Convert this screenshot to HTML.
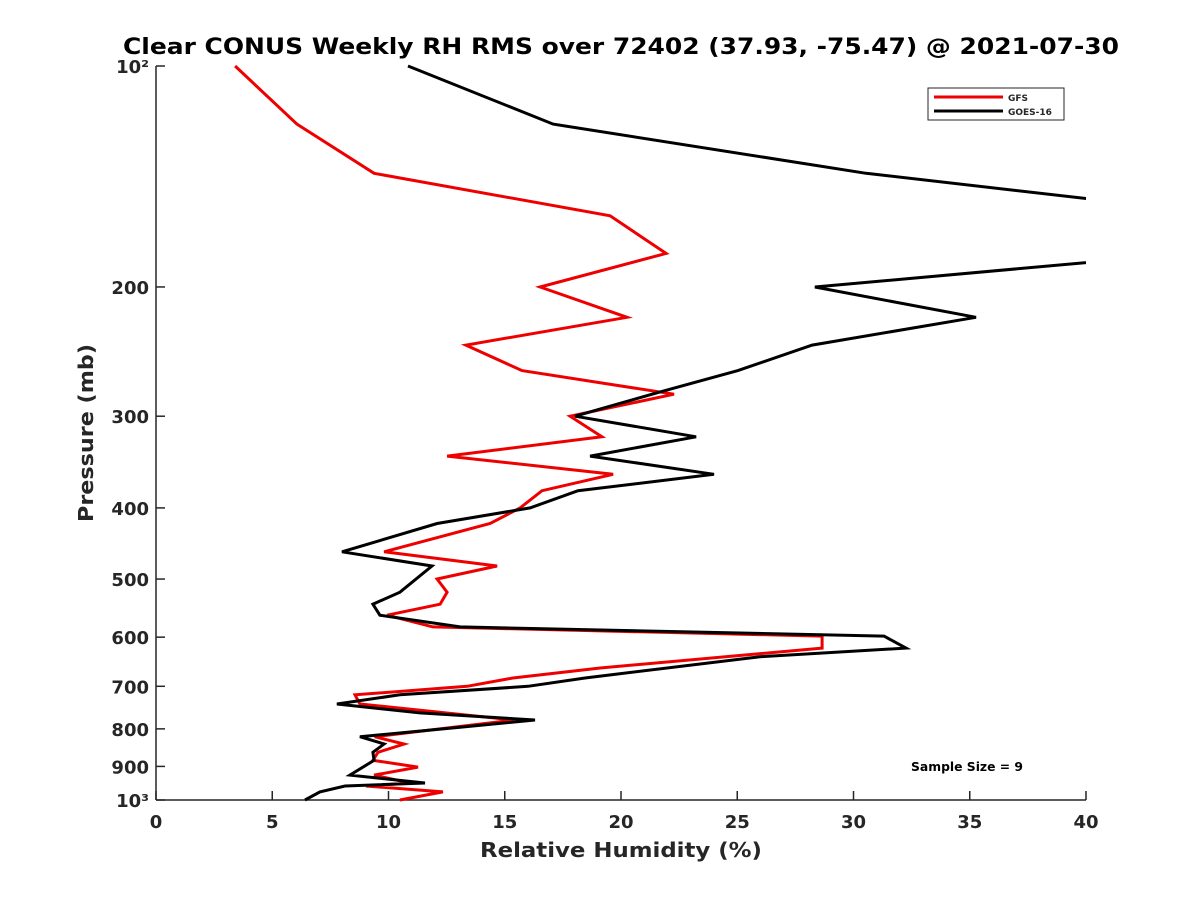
<!DOCTYPE html>
<html><head><meta charset="utf-8"><style>
body{margin:0;background:#fff;}
svg text{font-family:"DejaVu Sans","Liberation Sans",sans-serif;font-weight:bold;fill:#262626;}
</style></head><body>
<svg width="1200" height="900" xmlns="http://www.w3.org/2000/svg">
<defs><clipPath id="pc"><rect x="156" y="60" width="930" height="745"/></clipPath></defs>
<text x="621" y="54" text-anchor="middle" font-size="22" textLength="996" lengthAdjust="spacingAndGlyphs" style="fill:#000">Clear CONUS Weekly RH RMS over 72402 (37.93, -75.47) @ 2021-07-30</text>
<g id="axes"></g>
<g id="series" clip-path="url(#pc)"></g>
<text x="621" y="857" text-anchor="middle" font-size="20" textLength="282" lengthAdjust="spacingAndGlyphs">Relative Humidity (%)</text>
<text transform="translate(93,433) rotate(-90)" text-anchor="middle" font-size="20" textLength="178" lengthAdjust="spacingAndGlyphs">Pressure (mb)</text>
<g>
<rect x="928" y="88" width="136" height="32" fill="#fff" stroke="#262626" stroke-width="1"/>
<line x1="934" y1="97" x2="1003" y2="97" stroke="#e00" stroke-width="3"/>
<text x="1008" y="101" font-size="9">GFS</text>
<line x1="934" y1="111" x2="1003" y2="111" stroke="#000" stroke-width="3"/>
<text x="1008" y="115" font-size="9">GOES-16</text>
</g>
<text x="967" y="771" text-anchor="middle" font-size="12" textLength="112" lengthAdjust="spacingAndGlyphs" style="fill:#000">Sample Size = 9</text>
</svg>
<script>
const gfsP=[100,120,140,160,180,200,220,240,260,280,300,320,340,360,379,400,420,459,480,500,521,541,560,581,598,621,661,682,700,719,740,778,820,839,861,883,902,925,948,957,975,1000];
const gfsRH=[3.4,6.06,9.38,19.53,21.94,16.52,20.26,13.33,15.74,22.28,17.81,19.18,12.52,19.66,16.6,15.66,14.37,9.81,14.67,12.09,12.52,12.22,9.94,11.91,28.65,28.65,19.1,15.35,13.38,8.56,8.77,15.4,9.4,10.67,9.55,9.33,11.27,9.38,10.92,9.03,12.34,10.49];
const goesP=[100,120,140,160,180,200,220,240,260,278,300,320,340,360,379,400,420,459,480,521,541,560,581,598,621,638,682,700,719,740,761,778,796,820,839,861,883,925,948,957,975,1000];
const goesRH=[10.84,17.08,30.54,46.5,44.4,28.34,35.27,28.22,25.03,21.68,18.02,23.23,18.67,24.0,18.15,16.09,12.09,8.0,11.87,10.49,9.33,9.63,13.08,31.31,32.26,25.98,18.45,16.0,10.49,7.78,11.35,16.3,13.08,8.77,9.81,9.33,9.38,8.34,11.57,8.13,7.05,6.41];
const xTicks=[0,5,10,15,20,25,30,35,40];
const yTicks=[100,200,300,400,500,600,700,800,900,1000];
const yLabels=["10²","200","300","400","500","600","700","800","900","10³"];
const NS="http://www.w3.org/2000/svg";
const X0=156,X1=1086,Y0=66,Y1=800;
const xs=v=>X0+(v-0)/40*(X1-X0);
const ys=p=>Y0+(Math.log10(p)-2)*(Y1-Y0);
function mk(t,a,parent){const e=document.createElementNS(NS,t);for(const k in a)e.setAttribute(k,a[k]);parent.appendChild(e);return e;}
const ax=document.getElementById('axes');
const yl=mk('line',{x1:X0,y1:Y0,x2:X0,y2:Y1,stroke:'#262626','stroke-width':1.5},ax);


const xl=mk('line',{x1:X0,y1:Y1,x2:X1,y2:Y1,stroke:'#262626','stroke-width':1.5},ax);


xTicks.forEach(v=>{
  mk('line',{x1:xs(v),y1:Y1,x2:xs(v),y2:Y1-9,stroke:'#262626','stroke-width':1.5},ax);
  const t=mk('text',{x:xs(v),y:Y1+28,'text-anchor':'middle','font-size':18},ax);
  t.textContent=v;
  
  
});
yTicks.forEach((p,i)=>{
  mk('line',{x1:X0,y1:ys(p),x2:X0+9,y2:ys(p),stroke:'#262626','stroke-width':1.5},ax);
  const t=mk('text',{x:X0-7,y:ys(p)+7,'text-anchor':'end','font-size':18},ax);
  t.textContent=yLabels[i];
  
  
});
const sg=document.getElementById('series');
function line(P,R,color,name){
  const pts=P.map((p,i)=>xs(R[i]).toFixed(1)+','+ys(p).toFixed(1)).join(' ');
  const l=mk('polyline',{points:pts,fill:'none',stroke:color,'stroke-width':3,'stroke-linejoin':'miter'},sg);
  
  
}
line(gfsP,gfsRH,'#e00','gfs-line');
line(goesP,goesRH,'#000','goes16-line');
</script>
</body></html>
